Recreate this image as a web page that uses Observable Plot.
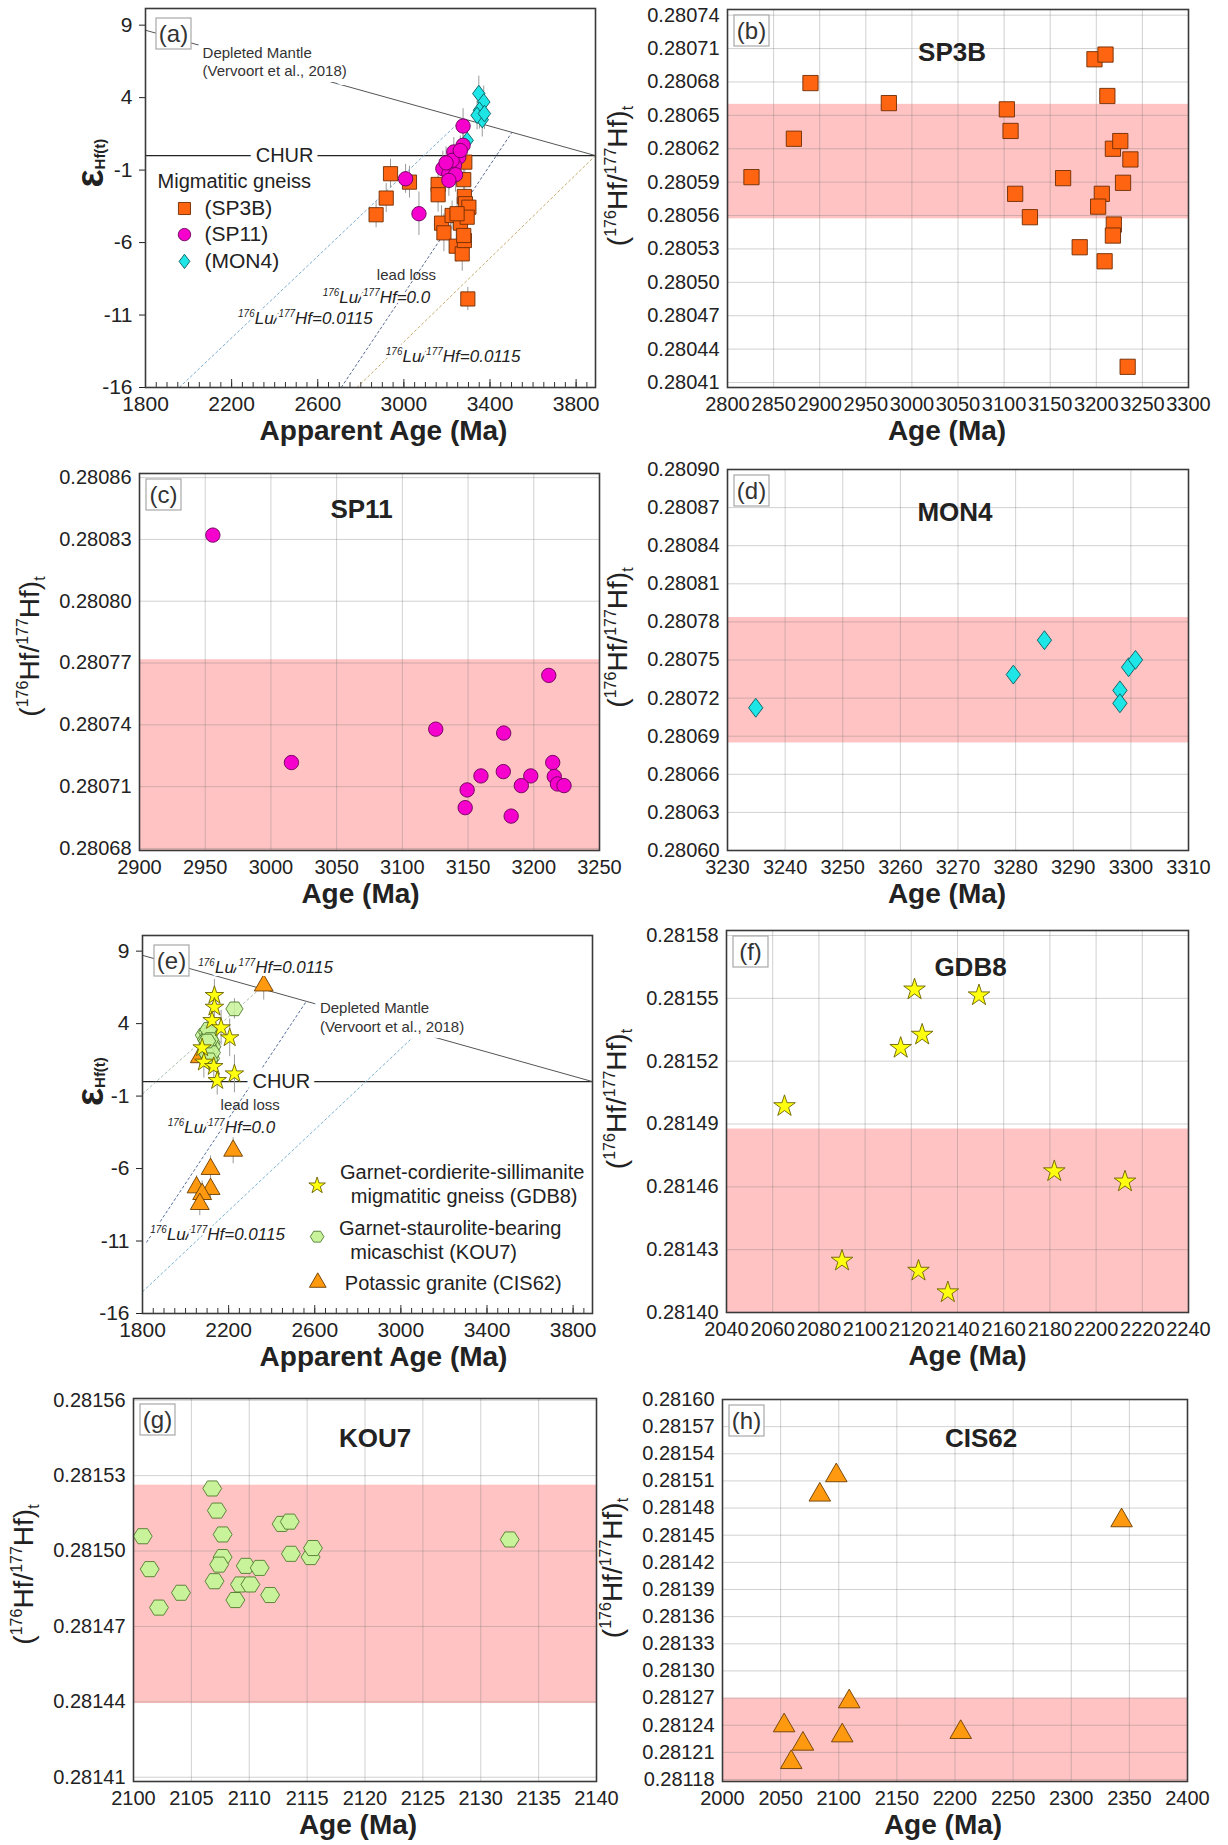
<!DOCTYPE html>
<html><head><meta charset="utf-8">
<script src="https://cdn.jsdelivr.net/npm/d3@7"></script>
<script src="https://cdn.jsdelivr.net/npm/@observablehq/plot@0.6"></script>
<style>
body{margin:0;background:#fff;}
#fig{position:relative;width:1228px;height:1845px;background:#fff;overflow:hidden;}
#fig svg{position:absolute;overflow:visible;}
</style></head><body><div id="fig"></div>
<script>
// ---------------- DATA ----------------
// Panel (a): epsilon Hf vs apparent age
const sp3bAgeA = [2938, 3026, 2918, 2871, 3159, 3159, 3175, 3186, 3224, 3243, 3263, 3271, 3278, 3283, 3281, 3286, 3302, 3294, 3281, 3278, 3297, 3247];
const sp3bEpsA = [-1.25, -1.83, -2.93, -4.08, -1.99, -2.70, -4.66, -5.33, -4.13, -6.25, -4.66, -6.78, -1.66, -0.45, -2.82, -3.32, -3.56, -4.25, -5.86, -5.51, -9.89, -4.01];
const sp3bErrA = [1.0, 1.1, 1.0, 0.9, 1.0, 1.2, 1.2, 1.3, 1.0, 1.1, 1.0, 1.2, 1.4, 1.0, 1.1, 1.0, 1.2, 1.1, 1.3, 1.0, 0.8, 1.1];
const sp11AgeA = [3008, 3070, 3275, 3275, 3232, 3255, 3181, 3209, 3235, 3240, 3209, 3224, 3262, 3196];
const sp11EpsA = [-1.6, -4.01, 2.04, 0.71, 0.25, -0.1, -0.9, -1.25, -0.68, -1.32, -1.71, -0.33, 0.35, -0.5];
const sp11ErrA = [1.0, 1.5, 1.2, 1.1, 1.0, 1.0, 1.2, 1.1, 1.0, 1.2, 1.1, 1.0, 1.0, 1.1];
const mon4AgeA = [3348, 3371, 3351, 3364, 3340, 3294, 3374];
const mon4EpsA = [4.28, 3.7, 3.13, 2.48, 2.78, 1.05, 2.9];
const mon4ErrA = [1.2, 1.1, 1.3, 1.2, 1.0, 1.0, 1.1];
const dmA = [[1800, 8.65], [3890, 0]];
const luLinesA = [[1957, -16, 3274, 2.55], [2709, -16, 3503, 1.63], [2782, -16, 3890, 0]];
const legendNamesA = ["(SP3B)", "(SP11)", "(MON4)"];
const legendYA = [-3.65, -5.45, -7.3];

// Panel (e)
const gdb8AgeE = [2134, 2134, 2123, 2165, 2205, 2077, 2085, 2131, 2227, 2147];
const gdb8EpsE = [5.94, 5.13, 4.21, 3.71, 3.02, 2.33, 1.34, 1.04, 0.53, 0.07];
const gdb8ErrE = [1.1, 1.2, 1.1, 1.2, 1.3, 1.0, 1.1, 1.2, 1.3, 1.0];
const kou7AgeE = [2227, 2085, 2095, 2100, 2106, 2110, 2116, 2120, 2098, 2108, 2112, 2118, 2124, 2103, 2093, 2106, 2114, 2122, 2110, 2100];
const kou7EpsE = [5.02, 3.2, 2.9, 3.4, 2.6, 3.0, 2.2, 2.7, 2.0, 1.8, 3.3, 1.6, 2.4, 2.5, 2.1, 3.6, 2.9, 2.0, 1.5, 2.8];
const kou7ErrE = [0.7, 0.8, 0.8, 0.8, 0.8, 0.8, 0.8, 0.8, 0.8, 0.8, 0.8, 0.8, 0.8, 0.8, 0.8, 0.8, 0.8, 0.8, 0.8, 0.8];
const cis62AgeE = [2363, 2221, 2116, 2116, 2051, 2077, 2066, 2066];
const cis62EpsE = [6.63, -4.77, -6.03, -7.41, -7.30, -7.76, -8.45, 1.68];
const cis62ErrE = [1.0, 0.9, 0.9, 0.8, 0.8, 0.9, 0.8, 0.8];
const dmE = [[1800, 8.71], [3890, 0]];
const luLinesE = [[1800, -0.85, 2347, 6.43], [1818, -11.1, 2561, 5.54], [1800, -14.5, 3079, 3.38]];
const legendNamesE = ["Garnet-cordierite-sillimanite", "migmatitic gneiss (GDB8)", "Garnet-staurolite-bearing", "micaschist (KOU7)", "Potassic granite (CIS62)"];
const legendTextXE = [3285, 3294, 3229, 3152, 3243];
const legendTextYE = [-6.28, -7.93, -10.17, -11.8, -13.97];
const legendSymYE = [-7.18, -10.70, -13.86];

const epsTicks = [9, 4, -1, -6, -11, -16];
const apparentAgeTicks = [1800, 2200, 2600, 3000, 3400, 3800];
const apparentMinorTicks = d3.range(1800, 3890, 50);

// Panel (b) SP3B
const sp3bAge = [2826, 2872, 2890, 2975, 3103, 3107, 3112, 3128, 3164, 3182, 3198, 3210, 3212, 3206, 3202, 3209, 3218, 3226, 3237, 3229, 3219, 3218, 3234];
const sp3bHf = [0.2805945, 0.280629, 0.280679, 0.280661, 0.2806554, 0.280636, 0.2805795, 0.2805585, 0.2805936, 0.2805315, 0.2807004, 0.2807046, 0.2806674, 0.2805795, 0.280568, 0.2805189, 0.28062, 0.2806269, 0.2806104, 0.2805894, 0.2805519, 0.280542, 0.2804241];
const xTicksB = [2800, 2850, 2900, 2950, 3000, 3050, 3100, 3150, 3200, 3250, 3300];
const yTicksB = [0.28041, 0.28044, 0.28047, 0.28050, 0.28053, 0.28056, 0.28059, 0.28062, 0.28065, 0.28068, 0.28071, 0.28074];
const bandB = [0.280557, 0.2806599];

// Panel (c) SP11
const sp11Age = [2955.8, 3015.6, 3125.4, 3177.1, 3211.4, 3214.4, 3176.8, 3159.8, 3197.7, 3190.5, 3149.3, 3147.8, 3182.8, 3215.6, 3218, 3223];
const sp11Hf = [0.2808321, 0.2807217, 0.2807379, 0.280736, 0.280764, 0.2807217, 0.2807173, 0.2807152, 0.2807152, 0.2807105, 0.2807084, 0.2806998, 0.2806957, 0.2807149, 0.2807113, 0.2807105];
const xTicksC = [2900, 2950, 3000, 3050, 3100, 3150, 3200, 3250];
const yTicksC = [0.28068, 0.28071, 0.28074, 0.28077, 0.28080, 0.28083, 0.28086];
const bandC = [0.28060, 0.2807716];

// Panel (d) MON4
const mon4Age = [3234.9, 3279.6, 3285.0, 3298.1, 3298.1, 3299.6, 3300.8];
const mon4Hf = [0.2807124, 0.2807385, 0.2807656, 0.2807261, 0.2807159, 0.2807443, 0.2807501];
const xTicksD = [3230, 3240, 3250, 3260, 3270, 3280, 3290, 3300, 3310];
const yTicksD = [0.28060, 0.28063, 0.28066, 0.28069, 0.28072, 0.28075, 0.28078, 0.28081, 0.28084, 0.28087, 0.28090];
const bandD = [0.2806847, 0.2807834];

// Panel (f) GDB8
const gdb8Age = [2065.1, 2090, 2115.4, 2121.4, 2124.7, 2123.1, 2135.8, 2149.3, 2181.9, 2212.5];
const gdb8Hf = [0.2814985, 0.2814247, 0.2815263, 0.2815542, 0.2815326, 0.2814199, 0.2814096, 0.2815514, 0.2814674, 0.2814625];
const xTicksF = [2040, 2060, 2080, 2100, 2120, 2140, 2160, 2180, 2200, 2220, 2240];
const yTicksF = [0.28140, 0.28143, 0.28146, 0.28149, 0.28152, 0.28155, 0.28158];
const bandF = [0.28130, 0.2814876];

// Panel (g) KOU7
const kou7Age = [2100.8, 2101.4, 2102.2, 2104.1, 2106.8, 2107.2, 2107.7, 2107.7, 2107.4, 2107.0, 2108.8, 2109.2, 2109.7, 2110.1, 2110.9, 2111.8, 2112.8, 2113.5, 2113.6, 2115.3, 2115.5, 2132.5];
const kou7Hf = [0.2815059, 0.2814928, 0.2814775, 0.2814834, 0.2815249, 0.2815161, 0.2815066, 0.2814976, 0.2814946, 0.281488, 0.2814805, 0.2814867, 0.2814941, 0.2814867, 0.2814933, 0.2814825, 0.2815108, 0.2815117, 0.2814989, 0.2814976, 0.2815012, 0.2815046];
const xTicksG = [2100, 2105, 2110, 2115, 2120, 2125, 2130, 2135, 2140];
const yTicksG = [0.28141, 0.28144, 0.28147, 0.28150, 0.28153, 0.28156];
const bandG = [0.2814393, 0.2815262];

// Panel (h) CIS62
const cis62Age = [2053, 2059.1, 2069.2, 2083.7, 2097.9, 2103, 2109, 2204.9, 2343.3];
const cis62Hf = [0.2812396, 0.281199, 0.2812193, 0.2814946, 0.281516, 0.2812285, 0.2812661, 0.2812322, 0.2814662];
const xTicksH = [2000, 2050, 2100, 2150, 2200, 2250, 2300, 2350, 2400];
const yTicksH = [0.28118, 0.28121, 0.28124, 0.28127, 0.28130, 0.28133, 0.28136, 0.28139, 0.28142, 0.28145, 0.28148, 0.28151, 0.28154, 0.28157, 0.28160];
const bandH = [0.28110, 0.2812698];

// ---------------- HELPERS ----------------
const FONT = "'Liberation Sans', Arial, Helvetica, sans-serif";
const TXT = "#222";
const fig = document.getElementById("fig");
const zipPts = (xs, ys, es) => xs.map((x, i) => ({x, y: ys[i], e: es ? es[i] : 0}));

const diamondSym = {draw(ctx, size) {const a = Math.sqrt(size); const hy = a * 0.62, hx = a * 0.47;
  ctx.moveTo(0, -hy); ctx.lineTo(hx, 0); ctx.lineTo(0, hy); ctx.lineTo(-hx, 0); ctx.closePath();}};
const hexSym = {draw(ctx, size) {const R = Math.sqrt(size / 2.598);
  for (let i = 0; i < 6; i++) {const t = i * Math.PI / 3; const px = R * Math.cos(t), py = R * Math.sin(t) * 0.92;
    if (i === 0) ctx.moveTo(px, py); else ctx.lineTo(px, py);} ctx.closePath();}};

const STY = {
  sp3b: {symbol: "square", fill: "#ff6410", stroke: "#6e2c05", strokeWidth: 0.9},
  sp11: {symbol: "circle", fill: "#f500cc", stroke: "#6a0058", strokeWidth: 0.9},
  mon4: {symbol: diamondSym, fill: "#1ee6e6", stroke: "#0c5a5e", strokeWidth: 0.9},
  gdb8: {symbol: "star", fill: "#ffff10", stroke: "#6b6200", strokeWidth: 0.9},
  kou7: {symbol: hexSym, fill: "#c8f39a", stroke: "#4f7a2e", strokeWidth: 0.9},
  cis62: {symbol: "triangle", fill: "#ff9a10", stroke: "#6a3c00", strokeWidth: 0.9}
};

function panel(cell, frame, xDomain, yDomain, marks) {
  const [cx, cy, cw, ch] = cell, [L, T, R, B] = frame;
  const svg = Plot.plot({
    width: cw, height: ch,
    marginLeft: L - cx, marginRight: cx + cw - R, marginTop: T - cy, marginBottom: cy + ch - B,
    x: {domain: xDomain}, y: {domain: yDomain},
    style: {fontFamily: FONT, fontSize: "20px", color: TXT, background: "none", overflow: "visible"},
    marks
  });
  svg.style.left = cx + "px"; svg.style.top = cy + "px";
  fig.appendChild(svg);
  return svg;
}

function richText(svg, x, y, parts, o) {
  const t = d3.select(svg).append("text")
    .attr("transform", `translate(${x},${y}) rotate(${o.rotate || 0})`)
    .attr("text-anchor", o.anchor || "start")
    .attr("font-family", FONT).attr("font-size", o.size)
    .attr("font-weight", o.weight || "normal").attr("font-style", o.style || "normal")
    .attr("fill", o.fill || TXT);
  if (o.halo) t.attr("stroke", "white").attr("stroke-width", o.halo).attr("stroke-linejoin", "round").attr("paint-order", "stroke");
  let cur = 0;
  for (const p of parts) {
    const off = p.sup ? -(o.supShift ?? o.size * 0.42) : p.sub ? (o.subShift ?? o.size * 0.22) : 0;
    t.append("tspan").attr("dy", off - cur)
      .attr("font-size", (p.sup || p.sub) ? (o.small || o.size * 0.6) : o.size).text(p.t);
    cur = off;
  }
  return t;
}

function boxLabel(svg, x, y, label) {
  const g = d3.select(svg).append("g");
  g.append("rect").attr("x", x).attr("y", y).attr("width", 35).attr("height", 31)
    .attr("fill", "white").attr("stroke", "#a8a8a8").attr("stroke-width", 1.2);
  g.append("text").attr("x", x + 17.5).attr("y", y + 23.5).attr("text-anchor", "middle")
    .attr("font-family", FONT).attr("font-size", 24).attr("fill", "#333").text(label);
}

const hfLabel = [{t: "("}, {t: "176", sup: 1}, {t: "Hf/"}, {t: "177", sup: 1}, {t: "Hf)"}, {t: "t", sub: 1}];
const luParts = v => [{t: "176", sup: 1}, {t: "Lu/"}, {t: "177", sup: 1}, {t: "Hf=" + v}];

function hfPanel(cell, frame, xDomain, yDomain, xTicks, yTicks, band, pts, sty, r, name, tag, titleDx, titleDy, xTitleDx) {
  const [cx, cy] = cell, [L, T, R, B] = frame;
  const svg = panel(cell, frame, xDomain, yDomain, [
    Plot.rect([band], {x1: () => xDomain[0], x2: () => xDomain[1], y1: d => d[0], y2: d => d[1], fill: "#ffc3c3", clip: true}),
    Plot.gridX(xTicks, {stroke: "#7a7a7a", strokeOpacity: 0.35, strokeWidth: 1}),
    Plot.gridY(yTicks, {stroke: "#7a7a7a", strokeOpacity: 0.35, strokeWidth: 1}),
    Plot.axisX(xTicks, {tickSize: 0, tickPadding: 9, fontSize: 20, tickFormat: d => String(d), label: null}),
    Plot.axisY(yTicks, {tickSize: 0, tickPadding: 8, fontSize: 20, tickFormat: d3.format(".5f"), label: null}),
    Plot.dot(pts, {x: "x", y: "y", r, ...sty}),
    Plot.text([name], {text: d => d, frameAnchor: "top", dx: titleDx, dy: titleDy, fontSize: 26, fontWeight: "bold", fill: TXT}),
    Plot.text(["Age (Ma)"], {text: d => d, frameAnchor: "bottom", dx: xTitleDx, dy: 52, fontSize: 28, fontWeight: "bold", fill: TXT}),
    Plot.frame({stroke: "#3a3a3a", strokeWidth: 1.6})
  ]);
  boxLabel(svg, L - cx + 7, T - cy + 6, tag);
  const midY = (T + B) / 2 - cy;
  richText(svg, L - cx - 100, midY - (cx > 0 ? 22 : 15), hfLabel, {rotate: -90, anchor: "middle", size: 28, small: 16, supShift: 11, subShift: 6});
  return svg;
}

function epsAxes(frameH) {
  return [
    Plot.ruleX(apparentMinorTicks, {x: d => d, insetTop: frameH - 5, stroke: "#333", strokeWidth: 1}),
    Plot.ruleX(apparentAgeTicks, {x: d => d, insetTop: frameH - 8, stroke: "#333", strokeWidth: 1}),
    Plot.axisX(apparentAgeTicks, {tickSize: 0, tickPadding: 9, fontSize: 21, tickFormat: d => String(d), label: null}),
    Plot.axisY(epsTicks, {tickSize: 6, tickPadding: 7, fontSize: 21, tickFormat: d => String(d), label: null})
  ];
}
const halo = {stroke: "white", strokeWidth: 7, paintOrder: "stroke", strokeLinejoin: "round"};

// ---------------- PANEL (a) ----------------
{
  const cell = [0, 0, 614, 460], frame = [145, 8, 595, 387];
  const sp3b = zipPts(sp3bAgeA, sp3bEpsA, sp3bErrA), sp11 = zipPts(sp11AgeA, sp11EpsA, sp11ErrA), mon4 = zipPts(mon4AgeA, mon4EpsA, mon4ErrA);
  const errs = [...sp3b, ...mon4, ...sp11];
  const svg = panel(cell, frame, [1800, 3890], [-16, 10.15], [
    Plot.ruleY([0], {stroke: "#222", strokeWidth: 1.4}),
    Plot.link([dmA], {x1: d => d[0][0], y1: d => d[0][1], x2: d => d[1][0], y2: d => d[1][1], stroke: "#555", strokeWidth: 1}),
    Plot.link([luLinesA[0]], {x1: d => d[0], y1: d => d[1], x2: d => d[2], y2: d => d[3], stroke: "#78acd2", strokeWidth: 1, strokeDasharray: "3,2", clip: true}),
    Plot.link([luLinesA[1]], {x1: d => d[0], y1: d => d[1], x2: d => d[2], y2: d => d[3], stroke: "#5a6c92", strokeWidth: 1, strokeDasharray: "3,2", clip: true}),
    Plot.link([luLinesA[2]], {x1: d => d[0], y1: d => d[1], x2: d => d[2], y2: d => d[3], stroke: "#c6ad6c", strokeWidth: 1, strokeDasharray: "3,2", clip: true}),
    Plot.text(["CHUR"], {x: 2446, y: 0, text: d => d, fontSize: 20, fill: TXT, stroke: "white", strokeWidth: 12, paintOrder: "stroke"}),
    Plot.text(["Depleted Mantle\n(Vervoort et al., 2018)"], {x: 2065, y: 7.62, text: d => d, textAnchor: "start", lineAnchor: "top", lineHeight: 1.22, fontSize: 15, fill: "#333", ...halo, strokeWidth: 12}),
    Plot.text(["lead loss"], {x: 3012, y: -8.28, text: d => d, fontSize: 15, fill: "#333"}),
    Plot.ruleX(errs, {x: "x", y1: d => d.y - d.e, y2: d => d.y + d.e, stroke: "#9a9a9a", strokeWidth: 1}),
    Plot.dot(sp3b, {x: "x", y: "y", r: 8, ...STY.sp3b}),
    Plot.dot(mon4, {x: "x", y: "y", r: 7.5, ...STY.mon4}),
    Plot.dot(sp11, {x: "x", y: "y", r: 7.2, ...STY.sp11}),
    Plot.text(["Migmatitic gneiss"], {x: 1856, y: -1.78, text: d => d, textAnchor: "start", fontSize: 20, fill: TXT}),
    Plot.dot([legendYA[0]], {x: 1981, y: d => d, r: 6.8, ...STY.sp3b}),
    Plot.dot([legendYA[1]], {x: 1981, y: d => d, r: 6.2, ...STY.sp11}),
    Plot.dot([legendYA[2]], {x: 1981, y: d => d, r: 6.5, ...STY.mon4}),
    Plot.text(legendNamesA, {x: 2074, y: (d, i) => legendYA[i], text: d => d, textAnchor: "start", fontSize: 21, fill: TXT}),
    ...epsAxes(frame[3] - frame[1]),
    Plot.text(["Apparent Age (Ma)"], {text: d => d, frameAnchor: "bottom", dx: 13, dy: 52, fontSize: 28, fontWeight: "bold", fill: TXT}),
    Plot.frame({stroke: "#3a3a3a", strokeWidth: 1.6})
  ]);
  const sx = svg.scale("x"), sy = svg.scale("y");
  richText(svg, sx.apply(2875), sy.apply(-9.78) + 6, luParts("0.0"), {anchor: "middle", size: 17, style: "italic", small: 10, supShift: 7, halo: 5});
  richText(svg, sx.apply(2545), sy.apply(-11.27) + 6, luParts("0.0115"), {anchor: "middle", size: 17, style: "italic", small: 10, supShift: 7, halo: 5});
  richText(svg, sx.apply(3231), sy.apply(-13.87) + 6, luParts("0.0115"), {anchor: "middle", size: 17, style: "italic", small: 10, supShift: 7, halo: 5});
  boxLabel(svg, frame[0] + 11, frame[1] + 10, "(a)");
  richText(svg, 103, (frame[1] + frame[3]) / 2 - 10, [{t: "ε"}, {t: "Hf(t)", sub: 1}], {rotate: -90, size: 38, weight: "bold", small: 15, subShift: 2});
}

// ---------------- PANEL (e) ----------------
{
  const cell = [0, 920, 614, 465], frame = [142, 935, 592, 1313];
  const gdb8 = zipPts(gdb8AgeE, gdb8EpsE, gdb8ErrE), kou7 = zipPts(kou7AgeE, kou7EpsE, kou7ErrE), cis62 = zipPts(cis62AgeE, cis62EpsE, cis62ErrE);
  const svg = panel(cell, frame, [1800, 3890], [-16, 10.08], [
    Plot.ruleY([0], {stroke: "#222", strokeWidth: 1.4}),
    Plot.link([dmE], {x1: d => d[0][0], y1: d => d[0][1], x2: d => d[1][0], y2: d => d[1][1], stroke: "#555", strokeWidth: 1}),
    Plot.link([luLinesE[0]], {x1: d => d[0], y1: d => d[1], x2: d => d[2], y2: d => d[3], stroke: "#a7bfae", strokeWidth: 1, strokeDasharray: "3,2", clip: true}),
    Plot.link([luLinesE[1]], {x1: d => d[0], y1: d => d[1], x2: d => d[2], y2: d => d[3], stroke: "#5670a0", strokeWidth: 1, strokeDasharray: "3,2", clip: true}),
    Plot.link([luLinesE[2]], {x1: d => d[0], y1: d => d[1], x2: d => d[2], y2: d => d[3], stroke: "#7ab2d4", strokeWidth: 1, strokeDasharray: "3,2", clip: true}),
    Plot.text(["CHUR"], {x: 2445, y: 0, text: d => d, fontSize: 20, fill: TXT, stroke: "white", strokeWidth: 12, paintOrder: "stroke"}),
    Plot.text(["Depleted Mantle\n(Vervoort et al., 2018)"], {x: 2624, y: 5.6, text: d => d, textAnchor: "start", lineAnchor: "top", lineHeight: 1.22, fontSize: 15, fill: "#333", ...halo, strokeWidth: 12}),
    Plot.text(["lead loss"], {x: 2300, y: -1.66, text: d => d, fontSize: 15, fill: "#333"}),
    Plot.ruleX([...cis62, ...kou7, ...gdb8], {x: "x", y1: d => d.y - d.e, y2: d => d.y + d.e, stroke: "#9a9a9a", strokeWidth: 1}),
    Plot.dot(cis62, {x: "x", y: "y", r: 7, ...STY.cis62}),
    Plot.dot(kou7, {x: "x", y: "y", r: 7.8, ...STY.kou7, fillOpacity: 0.85}),
    Plot.dot(gdb8, {x: "x", y: "y", r: 5.8, ...STY.gdb8}),
    Plot.dot([legendSymYE[0]], {x: 2611, y: d => d, r: 5.2, ...STY.gdb8}),
    Plot.dot([legendSymYE[1]], {x: 2611, y: d => d, r: 6.2, ...STY.kou7}),
    Plot.dot([legendSymYE[2]], {x: 2614, y: d => d, r: 6.2, ...STY.cis62}),
    Plot.text(legendNamesE, {x: (d, i) => legendTextXE[i], y: (d, i) => legendTextYE[i], text: d => d, textAnchor: "middle", fontSize: 20, fill: TXT}),
    ...epsAxes(frame[3] - frame[1]),
    Plot.text(["Apparent Age (Ma)"], {text: d => d, frameAnchor: "bottom", dx: 16, dy: 52, fontSize: 28, fontWeight: "bold", fill: TXT}),
    Plot.frame({stroke: "#3a3a3a", strokeWidth: 1.6})
  ]);
  const sx = svg.scale("x"), sy = svg.scale("y");
  richText(svg, sx.apply(2374), sy.apply(7.9) + 6, luParts("0.0115"), {anchor: "middle", size: 17, style: "italic", small: 10, supShift: 7, halo: 6});
  richText(svg, sx.apply(2169), sy.apply(-3.2) + 6, luParts("0.0"), {anchor: "middle", size: 17, style: "italic", small: 10, supShift: 7, halo: 5});
  richText(svg, sx.apply(2151), sy.apply(-10.52) + 6, luParts("0.0115"), {anchor: "middle", size: 17, style: "italic", small: 10, supShift: 7, halo: 5});
  boxLabel(svg, frame[0] + 12, frame[1] - 920 + 10, "(e)");
  richText(svg, 103, (frame[1] + frame[3]) / 2 - 920 - 18, [{t: "ε"}, {t: "Hf(t)", sub: 1}], {rotate: -90, size: 38, weight: "bold", small: 15, subShift: 2});
}

// ---------------- Hf ratio panels ----------------
hfPanel([614, 0, 614, 460], [727, 9, 1188, 387], [2800, 3300], [0.2804055, 0.2807451], xTicksB, yTicksB, bandB,
  zipPts(sp3bAge, sp3bHf), STY.sp3b, 8.6, "SP3B", "(b)", -6, 33, -11);
hfPanel([0, 460, 614, 460], [139, 473, 599, 850], [2900, 3250], [0.280679, 0.280862], xTicksC, yTicksC, bandC,
  zipPts(sp11Age, sp11Hf), STY.sp11, 7.2, "SP11", "(c)", -8, 26, -9);
hfPanel([614, 460, 614, 460], [727, 469, 1188, 850], [3230, 3310], [0.2806, 0.2809], xTicksD, yTicksD, bandD,
  zipPts(mon4Age, mon4Hf), STY.mon4, 8.6, "MON4", "(d)", -3, 33, -11);
hfPanel([614, 920, 614, 465], [726, 930, 1188, 1312], [2040, 2240], [0.2814, 0.2815824], xTicksF, yTicksF, bandF,
  zipPts(gdb8Age, gdb8Hf), STY.gdb8, 6.8, "GDB8", "(f)", 13, 27, 10);
hfPanel([0, 1385, 614, 460], [133, 1398, 596, 1781], [2100, 2140], [0.2814083, 0.2815607], xTicksG, yTicksG, bandG,
  zipPts(kou7Age, kou7Hf), STY.kou7, 8.6, "KOU7", "(g)", 10, 30, -7);
hfPanel([614, 1385, 614, 460], [722, 1399, 1187, 1781], [2000, 2400], [0.2811778, 0.2816], xTicksH, yTicksH, bandH,
  zipPts(cis62Age, cis62Hf), STY.cis62, 8, "CIS62", "(h)", 26, 29, -12);
</script></body></html>
